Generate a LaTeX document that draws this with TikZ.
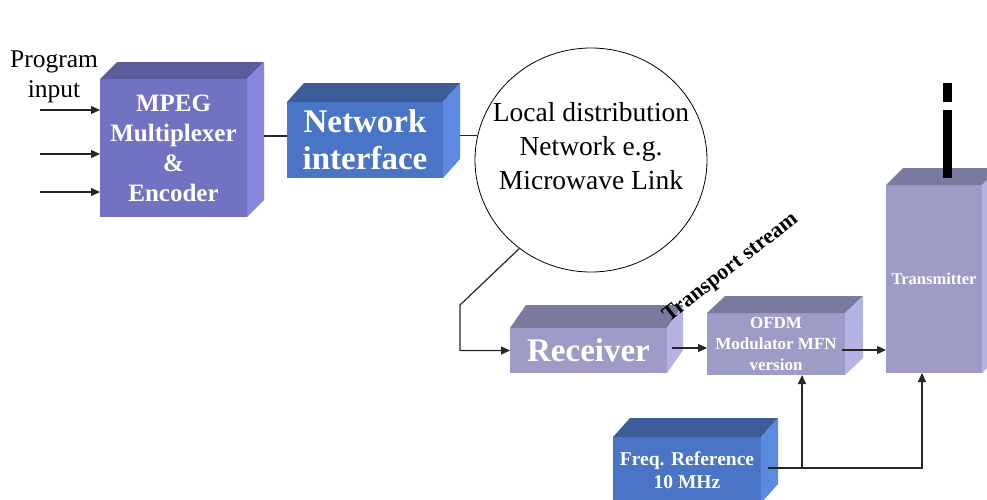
\documentclass[tikz,border=0pt]{standalone}
\usepackage{fontspec}
\setmainfont{Liberation Serif}
\usetikzlibrary{shapes.geometric,arrows.meta}
\definecolor{mfront}{HTML}{7272C2}
\definecolor{mtop}{HTML}{5C5C9C}
\definecolor{mside}{HTML}{8686DC}
\definecolor{bfront}{HTML}{4A74C6}
\definecolor{btop}{HTML}{3D5C9A}
\definecolor{bside}{HTML}{5B8AE0}
\definecolor{gfront}{HTML}{9C9CC6}
\definecolor{gtop}{HTML}{7A7A9E}
\definecolor{gside}{HTML}{B4B4E4}
\newcommand\cubeparts[5]{% name, top, side, dx, dy
  \fill[#2] (#1.north west) -- ++(#4,-#5) -- ([shift={(#4,-#5)}]#1.north east) -- (#1.north east) -- cycle;
  \fill[#3] (#1.north east) -- ++(#4,-#5) -- ([shift={(#4,-#5)}]#1.south east) -- (#1.south east) -- cycle;}
\tikzset{
  face/.style={inner sep=0pt, outer sep=0pt, draw=none, align=center, text=white},
  conn/.style={line width=1.2pt, black!85},
  arr/.style={conn, -{Triangle[length=9pt,width=8pt]}},
  lbl/.style={align=center, inner sep=0pt}
}
\begin{document}
\begin{tikzpicture}[x=1pt,y=-1pt]
\clip (0,0) rectangle (987,499);
\fill[white] (0,0) rectangle (987,499);

% MPEG box
\node[face, fill=mfront, minimum width=147, minimum height=138,
  font={\bfseries\fontsize{25}{30}\selectfont}] (mpeg) at (173.5,148)
  {MPEG\\Multiplexer\\\&\\Encoder};
\cubeparts{mpeg}{mtop}{mside}{17}{17}

% Network interface
\node[face, fill=bfront, minimum width=156, minimum height=76,
  font={\bfseries\fontsize{33}{37}\selectfont}] (netif) at (365,140)
  {Network\\interface};
\cubeparts{netif}{btop}{bside}{17}{19}

% Ellipse
\node[ellipse, draw, line width=0.8pt, minimum width=232, minimum height=224, inner sep=0pt] (ell) at (591,160) {};
\node[lbl, font={\fontsize{27.5}{34}\selectfont}] (elltxt) at (591,146) {Local distribution\\Network e.g.\\Microwave Link};

% Receiver
\node[face, fill=gfront, minimum width=157, minimum height=45,
  font={\bfseries\fontsize{33}{37}\selectfont}] (rec) at (588.5,350.5)
  {Receiver};
\cubeparts{rec}{gtop}{gside}{16}{23}

% OFDM
\node[face, fill=gfront, minimum width=138, minimum height=62,
  font={\bfseries\fontsize{17}{21}\selectfont}] (ofdm) at (776,344)
  {OFDM\\Modulator MFN\\version};
\cubeparts{ofdm}{gtop}{gside}{18}{17}

% Transmitter
\node[face, fill=gfront, minimum width=96, minimum height=188,
  font={\bfseries\fontsize{16.5}{20}\selectfont}] (tx) at (934,279)
  {Transmitter};
\cubeparts{tx}{gtop}{gside}{17}{17}

% Antenna
\fill[black] (943,83) rectangle (952,102);
\fill[black] (943,110) rectangle (952,178);

% Freq reference
\node[face, fill=bfront, minimum width=148, minimum height=66,
  font={\bfseries\fontsize{19.5}{23}\selectfont}] (freq) at (687,470)
  {Freq. Reference\\10 MHz};
\cubeparts{freq}{btop}{bside}{17}{19}

% Program input label
\node[lbl, font={\fontsize{25.5}{30}\selectfont}] (prog) at (54,77) {Program\\input};

% Transport stream label
\node[lbl, rotate=38, font={\bfseries\fontsize{22}{26}\selectfont}] (ts) at (731,268) {Transport stream};

% Input arrows
\coordinate (in1) at (40,110);
\coordinate (in2) at (40,154);
\coordinate (in3) at (40,192);
\draw[arr] (in1) -- (in1 -| mpeg.west);
\draw[arr] (in2) -- (in2 -| mpeg.west);
\draw[arr] (in3) -- (in3 -| mpeg.west);

% MPEG -> network interface
\coordinate (m1) at ([shift={(17,-12)}]mpeg.east);
\draw[conn] (m1) -- (m1 -| netif.west);

% network interface -> ellipse
\coordinate (nr) at ([xshift=17]netif.east);
\draw[conn] (nr |- ell.168) -- (ell.168);

% ellipse -> receiver
\coordinate (b1) at (460,305);
\draw[arr] (ell.231) -- (b1) -- (b1 |- rec.west) -- (rec.west);

% receiver -> ofdm
\coordinate (r1) at ([shift={(5,-2.5)}]rec.east);
\draw[arr] (r1) -- (r1 -| ofdm.west);

% ofdm -> transmitter
\coordinate (o1) at ([shift={(-3,6)}]ofdm.east);
\draw[arr] (o1) -- (o1 -| tx.west);

% freq reference -> ofdm, transmitter
\coordinate (f1) at ([shift={(7,-2)}]freq.east);
\coordinate (f2) at (922,468);
\coordinate (f3) at (802,468);
\draw[arr] (f1) -- (f2) -- (f2 |- tx.south);
\draw[arr] (f3) -- (f3 |- ofdm.south);
\end{tikzpicture}
\end{document}
